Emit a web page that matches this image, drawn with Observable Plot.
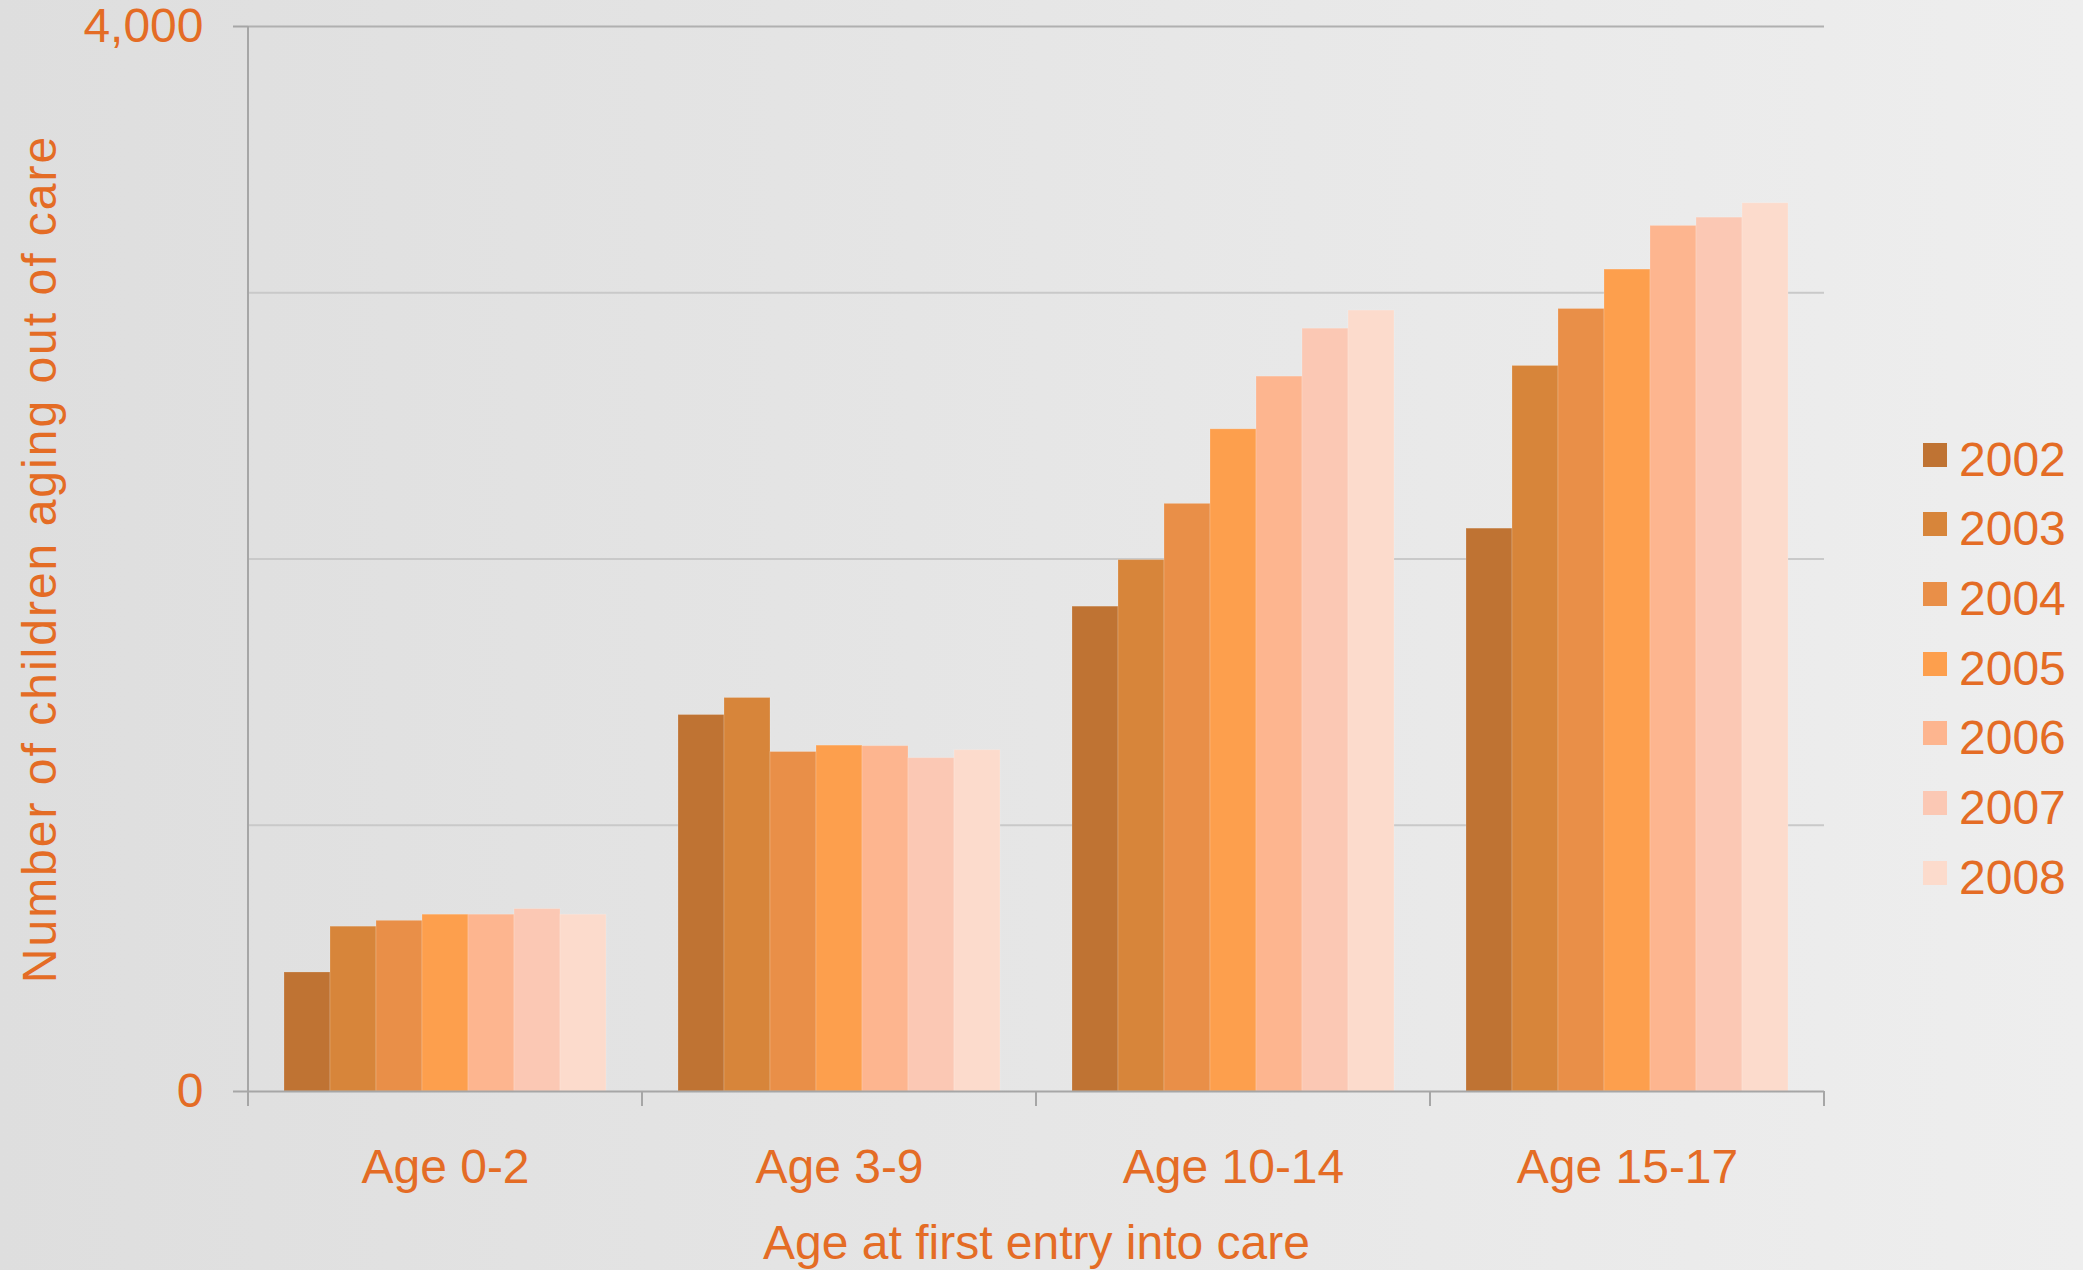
<!DOCTYPE html>
<html>
<head>
<meta charset="utf-8">
<script src="https://cdn.jsdelivr.net/npm/d3@7"></script>
<script src="https://cdn.jsdelivr.net/npm/@observablehq/plot@0.6"></script>
<style>
  html, body { margin: 0; padding: 0; }
  body {
    width: 2083px; height: 1270px; overflow: hidden;
    background: linear-gradient(to right, #dedede, #eeeeee);
    font-family: "Liberation Sans", Arial, sans-serif;
  }
  #wrap { display: flex; flex-direction: row; }
  #legend { width: 213px; padding-top: 435.5px; box-sizing: border-box; }
  .item { display: flex; height: 69.7px; align-items: flex-start; }
  .sw { width: 24px; height: 24px; margin-top: 7px; margin-left: 53px; margin-right: 12px; flex: none; }
  .lab { font-size: 48px; line-height: 48px; color: #E46C25; }
</style>
</head>
<body>
<div id="wrap"><div id="chart"></div><div id="legend"></div></div>
<script>
// ---- Data ----
const categories = ["Age 0-2", "Age 3-9", "Age 10-14", "Age 15-17"];
const years = ["2002", "2003", "2004", "2005", "2006", "2007", "2008"];
const colors = ["#BF7333", "#D7853A", "#E98F48", "#FD9F4D", "#FDB58F", "#FBC8B4", "#FCDBCC"];
const v2002 = [447, 1414, 1821, 2114];
const v2003 = [619, 1478, 1996, 2725];
const v2004 = [641, 1275, 2207, 2939];
const v2005 = [664, 1299, 2487, 3087];
const v2006 = [664, 1297, 2685, 3251];
const v2007 = [685, 1252, 2865, 3282];
const v2008 = [664, 1282, 2933, 3336];
const yTickLabels = [0, 4000];
const yGrid = [1000, 2000, 3000];
const yTop = [4000];
const yTitle = "Number of children aging out of care";
const xTitle = "Age at first entry into care";

const series = [v2002, v2003, v2004, v2005, v2006, v2007, v2008];
const data = [];
categories.forEach((c, i) => {
  years.forEach((y, j) => data.push({category: c, year: y, value: series[j][i]}));
});

const orange = "#E46C25";
const axisGray = "#a6a6a6";

const plot = Plot.plot({
  width: 1870,
  height: 1270,
  marginLeft: 247,
  marginRight: 46,
  marginTop: 26,
  marginBottom: 179,
  style: {background: "transparent", fontFamily: "'Liberation Sans', Arial, sans-serif", overflow: "visible"},
  fx: {domain: categories, padding: 0, axis: null},
  x: {domain: years, paddingInner: 0, paddingOuter: 0.757, axis: null},
  y: {domain: [0, 4000], axis: null},
  color: {domain: years, range: colors},
  marks: [
    Plot.ruleY(yGrid, {stroke: "#c9c9c9", strokeWidth: 2}),
    Plot.ruleY(yTop, {stroke: "#b0b0b0", strokeWidth: 2}),
    Plot.barY(data, {fx: "category", x: "year", y: "value", fill: "year", stroke: "#ffffff", strokeOpacity: 0.18, strokeWidth: 1}),
    Plot.ruleY([0], {stroke: axisGray, strokeWidth: 2}),
    Plot.axisY(yTickLabels, {
      tickFormat: d3.format(","), tickSize: 15, tickPadding: 30, fontSize: 48,
      stroke: axisGray, strokeWidth: 2, fill: orange,
      label: yTitle, labelArrow: "none", labelAnchor: "center", labelOffset: 227
    }),
    Plot.axisFx({
      anchor: "bottom", tickSize: 0, tickPadding: 57, fontSize: 48, fill: orange,
      label: xTitle, labelArrow: "none", labelAnchor: "center", labelOffset: 167
    })
  ]
});

const svgEl = plot.tagName.toLowerCase() === "svg" ? plot : plot.querySelector("svg");
document.getElementById("chart").appendChild(plot);

// clean axis titles (no arrows) and widen the y title's spacing like the reference
d3.select(svgEl).selectAll("text").each(function() {
  const t = this.textContent;
  if (t.includes("Number of children")) {
    this.textContent = yTitle;
    this.setAttribute("letter-spacing", "2");
  } else if (t.includes("Age at first entry")) {
    this.textContent = xTitle;
  }
});

// y-axis line and category boundary ticks, positioned through Plot's scales
const fxs = plot.scale("fx");
const ys = plot.scale("y");
const bw = fxs.bandwidth != null ? fxs.bandwidth : (fxs.range[1] - fxs.range[0]) / categories.length;
const bounds = categories.map(c => fxs.apply(c));
bounds.push(bounds[bounds.length - 1] + bw);
const y0 = ys.apply(0), yMax = ys.apply(4000);
const g = d3.select(svgEl).append("g").attr("stroke", axisGray).attr("stroke-width", 2);
g.append("line").attr("x1", bounds[0]).attr("x2", bounds[0]).attr("y1", yMax).attr("y2", y0);
bounds.forEach(b => g.append("line").attr("x1", b).attr("x2", b).attr("y1", y0).attr("y2", y0 + 15));

// legend
const legend = d3.select("#legend");
years.forEach((y, i) => {
  const item = legend.append("div").attr("class", "item");
  item.append("div").attr("class", "sw").style("background", colors[i]);
  item.append("div").attr("class", "lab").text(y);
});
</script>
</body>
</html>
